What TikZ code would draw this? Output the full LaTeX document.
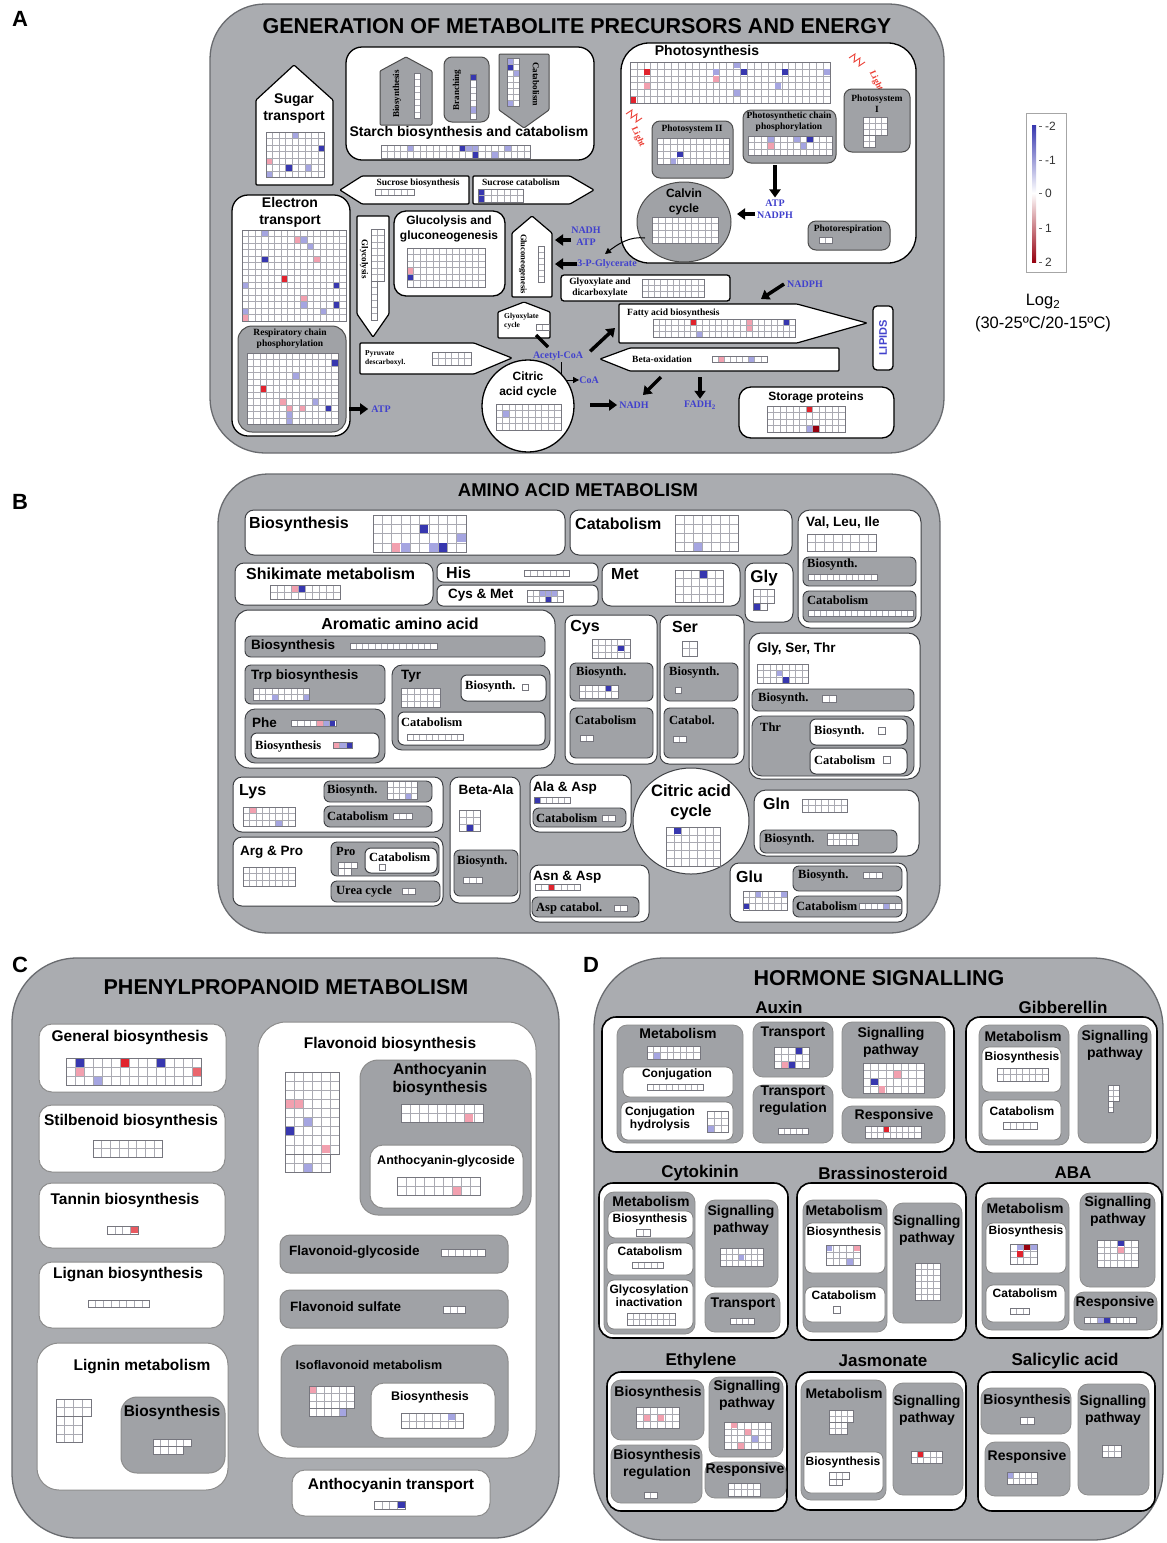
\documentclass[tikz,border=0pt]{standalone}
\usepackage{fontspec}
\setmainfont{Liberation Sans}
\newfontfamily\tms{Liberation Serif}
\usetikzlibrary{arrows.meta}

\definecolor{pgray}{RGB}{170,172,176}
\definecolor{bgray}{RGB}{160,162,166}
\definecolor{pedge}{RGB}{105,107,111}
\definecolor{bedge}{RGB}{62,64,68}
\definecolor{cellc}{RGB}{170,170,178}
\definecolor{cellb}{RGB}{118,118,126}
\definecolor{hb}{RGB}{55,55,175}
\definecolor{hlb}{RGB}{165,165,225}
\definecolor{hr}{RGB}{225,35,45}
\definecolor{hlr}{RGB}{242,160,175}
\definecolor{hdr}{RGB}{150,0,15}
\definecolor{metblue}{RGB}{65,65,205}
\definecolor{lightred}{RGB}{235,60,50}

% heat-map block: [cell]{x}{y}{cols}{rows}
\newcommand\hm[5][\cs]{\xdef\hmx{#2}\xdef\hmy{#3}\xdef\hmc{#1}%
  \fill[white] (#2,#3) rectangle ++({#4*#1},{#5*#1});
  \draw[cl] \foreach \i in {0,...,#4}{({#2+\i*#1},#3) -- ++(0,{#5*#1})}
    \foreach \j in {0,...,#5}{(#2,{#3+\j*#1}) -- ++({#4*#1},0)};
  \draw[cb] (#2,#3) rectangle ++({#4*#1},{#5*#1});}
% coloured cell of the last block: {col}{row}{colour}
\newcommand\hc[3]{\fill[#3] ({\hmx+#1*\hmc+0.5},{\hmy+#2*\hmc+0.5}) rectangle ++({\hmc-1},{\hmc-1});}

\tikzset{
  panel/.style={fill=pgray,draw=pedge,line width=1.3pt},
  wa/.style={fill=white,draw=black,line width=1.3pt,rounded corners=12pt},
  ga/.style={fill=bgray,draw=black!70,line width=1pt,rounded corners=8pt},
  wsh/.style={fill=white,draw=black,line width=1.2pt,rounded corners=1pt},
  gsh/.style={fill=bgray,draw=black!70,line width=1pt,rounded corners=1pt},
  wb/.style={fill=white,draw=bedge,line width=1pt,rounded corners=9pt},
  gb/.style={fill=bgray,draw=bedge,line width=0.9pt,rounded corners=6pt},
  wc/.style={fill=white,draw=black!45,line width=1pt,rounded corners=13pt},
  gc/.style={fill=bgray,draw=black!45,line width=1pt,rounded corners=10pt},
  wd/.style={fill=white,draw=black,line width=1.6pt,rounded corners=14pt},
  gd/.style={fill=bgray,draw=black!45,line width=0.8pt,rounded corners=10pt},
  wds/.style={fill=white,draw=black!50,line width=0.8pt,rounded corners=7pt},
  cl/.style={draw=cellc,line width=0.45pt},
  cb/.style={draw=cellb,line width=0.6pt},
  plab/.style={font=\fontsize{22}{24}\selectfont\bfseries,inner sep=0pt},
  ttl/.style={font=\fontsize{21.5}{24}\selectfont\bfseries,inner sep=0pt},
  md/.style={font=\fontsize{14}{17}\selectfont\bfseries,inner sep=0pt,align=center},
  sm/.style={font=\fontsize{12}{15}\selectfont\bfseries,inner sep=0pt,align=center},
  ti/.style={font=\tms\fontsize{9.5}{11}\selectfont\bfseries,inner sep=0pt,align=center},
  tj/.style={font=\tms\fontsize{7.5}{9}\selectfont\bfseries,inner sep=0pt,align=left},
  blu/.style={font=\tms\fontsize{10}{12}\selectfont\bfseries,text=metblue,inner sep=0pt,align=center},
  ltx/.style={font=\tms\fontsize{9}{10}\selectfont\bfseries,text=lightred,inner sep=0pt},
  lzz/.style={draw=lightred,line width=0.9pt},
  bh/.style={font=\fontsize{16}{19}\selectfont\bfseries,inner sep=0pt,align=center},
  bm/.style={font=\fontsize{13.5}{16}\selectfont\bfseries,inner sep=0pt},
  tb/.style={font=\tms\fontsize{12.5}{14}\selectfont\bfseries,inner sep=0pt},
  ch/.style={font=\fontsize{15.5}{18}\selectfont\bfseries,inner sep=0pt,align=center},
  cmd/.style={font=\fontsize{13.5}{16}\selectfont\bfseries,inner sep=0pt},
  csm/.style={font=\fontsize{12.5}{15}\selectfont\bfseries,inner sep=0pt},
  dh/.style={font=\fontsize{17}{20}\selectfont\bfseries,inner sep=0pt},
  dm/.style={font=\fontsize{14}{17}\selectfont\bfseries,inner sep=0pt,align=center},
  ds/.style={font=\fontsize{12}{13}\selectfont\bfseries,inner sep=0pt,align=center},
  lgd/.style={font=\fontsize{16.5}{19}\selectfont,inner sep=0pt},
  lgs/.style={font=\fontsize{12}{13}\selectfont,text=black!80,inner sep=0pt},
  barr/.style={line width=3.5pt,-{Triangle[length=8pt,width=11pt]}},
  tarr/.style={line width=1pt,-{Triangle[length=6pt,width=6pt]}},
}

\begin{document}
\begin{tikzpicture}[x=1pt,y=-1pt]
\useasboundingbox (0,0) rectangle (1167,1543);

%%% A
\def\cs{6.5}
\node[plab] (la) at (20,19) {A};
\draw[panel,rounded corners=55pt] (210,4) rectangle (944,453);
\node[ttl] (ta) at (577,26) {GENERATION OF METABOLITE PRECURSORS AND ENERGY};

\draw[wsh] (256,100) -- (294,65) -- (333,100) -- (333,185) -- (256,185) -- cycle;
\node[md] (sug) at (294,109) {Sugar\\transport};
\hm{266}{132}{9}{7}\hc{4}{0}{hlb}\hc{8}{2}{hb}\hc{0}{4}{hlr}\hc{3}{5}{hb}\hc{6}{5}{hlb}\hc{0}{6}{hlb}

\draw[wa,rounded corners=16pt] (346,47) rectangle (594,160);
\draw[gsh] (380,125) -- (380,71) -- (406,57) -- (432,71) -- (432,125) -- cycle;
\node[ti,rotate=90,font=\tms\fontsize{9}{10}\selectfont\bfseries] (sbio) at (397,94) {Biosynthesis};
\hm{414}{73}{1}{7}
\draw[ga] (444,57) rectangle (489,122);
\node[ti,rotate=90,font=\tms\fontsize{9}{10}\selectfont\bfseries] (sbra) at (457,90) {Branching};
\hm{470}{74}{1}{7}\hc{0}{0}{hb}\hc{0}{5}{hlb}
\draw[gsh] (499,54) -- (549,54) -- (549,110) -- (524,128) -- (499,110) -- cycle;
\node[ti,rotate=-90,font=\tms\fontsize{9}{10}\selectfont\bfseries] (scat) at (536,84) {Catabolism};
\hm[6]{507}{58}{2}{8}\hc{0}{1}{hb}\hc{0}{0}{hlb}\hc{1}{2}{hlb}\hc{0}{7}{hlb}
\node[md] (starch) at (469,133) {Starch biosynthesis and catabolism};
\hm{381}{145}{23}{2}\hc{4}{0}{hlb}\hc{12}{0}{hb}\hc{13}{0}{hlb}\hc{14}{0}{hlb}\hc{14}{1}{hb}\hc{17}{1}{hlb}\hc{19}{0}{hlb}

\draw[wsh] (340,190) -- (362,176) -- (469,176) -- (469,204) -- (362,204) -- cycle;
\node[ti] (sucb) at (418,183) {Sucrose biosynthesis};
\hm{375}{189}{6}{1}
\draw[wsh] (473,176) -- (570,176) -- (594,190) -- (570,204) -- (473,204) -- cycle;
\node[ti] (succ) at (521,182) {Sucrose catabolism};
\hm{478}{189}{7}{2}\hc{0}{0}{hb}\hc{0}{1}{hb}

\draw[wa,rounded corners=16pt] (232,195) rectangle (350,436);
\node[md] (elt) at (290,212) {Electron\\transport};
\hm{242}{230}{16}{14}
\hc{3}{0}{hlb}\hc{8}{1}{hlr}\hc{9}{1}{hlb}\hc{10}{2}{hlb}\hc{3}{4}{hb}\hc{11}{4}{hlr}\hc{6}{7}{hr}\hc{14}{8}{hb}
\hc{0}{8}{hlb}\hc{9}{10}{hlr}\hc{9}{11}{hlb}\hc{14}{11}{hb}\hc{0}{12}{hlb}\hc{12}{12}{hlb}\hc{0}{13}{hlr}
\draw[ga,rounded corners=14pt] (238,326) rectangle (346,432);
\node[ti] (rcp) at (290,339) {Respiratory chain\\phosphorylation};
\hm{247}{353}{14}{11}
\hc{13}{1}{hb}\hc{7}{3}{hlb}\hc{2}{5}{hr}\hc{8}{8}{hlr}\hc{10}{7}{hlb}\hc{12}{8}{hb}\hc{6}{8}{hlr}\hc{5}{7}{hlr}\hc{6}{9}{hlb}\hc{6}{10}{hlb}
\node[blu] (atp1) at (381,409) {ATP};
\coordinate (rce) at (349,409);
\draw[barr] (rce) -- ([xshift=-3pt]atp1.west);

\draw[wsh] (357,216) -- (389,216) -- (389,314) -- (373,337) -- (357,314) -- cycle;
\node[ti,rotate=-90,font=\tms\fontsize{9}{10}\selectfont\bfseries] (glyc) at (364,259) {Glycolysis};
\hm{371}{229}{2}{8}\hm{371}{281}{1}{6}

\draw[wa] (394,211) rectangle (505,296);
\node[sm] (glu) at (449,229) {Glucolysis and\\gluconeogenesis};
\hm{407}{248}{12}{6}\hc{0}{3}{hlr}\hc{0}{4}{hb}

\draw[wsh] (512,297) -- (512,233) -- (532,216) -- (552,233) -- (552,297) -- cycle;
\node[ti,rotate=-90,font=\tms\fontsize{8.5}{10}\selectfont\bfseries] (gng) at (523,264) {Gluconeogenesis};
\hm[6]{538}{246}{1}{6}

\node[blu] (nadh1) at (586,236) {NADH\\ATP};
\coordinate (gngr) at (555,240);
\draw[barr] (nadh1.west |- gngr) -- (gngr);
\node[blu] (pgly) at (607,264) {3-P-Glycerate};
\coordinate (gngr2) at (555,264);
\draw[barr] (pgly.west) -- (gngr2);

\draw[wa,rounded corners=3pt] (561,275) rectangle (730,301);
\node[ti] (gad) at (600,288) {Glyoxylate and\\dicarboxylate};
\hm[6.2]{642}{279}{10}{3}

\draw[wsh] (498,338) -- (498,312) -- (524,302) -- (550,312) -- (550,338) -- cycle;
\node[tj,anchor=west] (gcy) at (504,321) {Glyoxylate\\cycle};
\hm{536}{324}{2}{1}

\draw[wsh] (360,343) -- (474,343) -- (512,358) -- (474,374) -- (360,374) -- cycle;
\node[tj,anchor=west] (pyr) at (365,358) {Pyruvate\\descarboxyl.};
\hm{432}{352}{6}{2}

\node[blu] (acoa) at (558,356) {Acetyl-CoA};
\coordinate (gcyb) at (536,335);
\coordinate (acot) at (548,347);
\draw[line width=3.5pt] (gcyb) -- (acot);
\node[blu] (coa) at (589,380) {CoA};
\coordinate (acs) at (561,362);
\draw[tarr] (acs) |- (coa.west);

\draw[wa] (528,406) circle (46pt);
\node[sm] (caca) at (528,385) {Citric\\acid cycle};
\hm{496}{404}{10}{4}\hc{1}{1}{hlb}

\node[blu] (nadh2) at (634,405) {NADH};
\coordinate (cacr) at (590,405);
\draw[barr] (cacr) -- ([xshift=-2pt]nadh2.west);
\node[blu] (fadh) at (700,405) {FADH\textsubscript{2}};
\coordinate (box2) at (700,377);
\draw[barr] (box2) -- ([yshift=2pt]fadh.north);
\coordinate (box1) at (661,377);
\coordinate (nadt) at (643,395);
\draw[barr] (box1) -- (nadt);

\draw[wsh] (619,304) -- (797,304) -- (867,323) -- (797,343) -- (619,343) -- cycle;
\node[ti,anchor=west] (fab1) at (627,313) {Fatty acid biosynthesis};
\hm[6.2]{653}{319}{23}{3}\hc{6}{0}{hr}\hc{15}{0}{hlr}\hc{15}{1}{hlr}\hc{21}{0}{hb}\hc{7}{2}{hlb}
\coordinate (fal) at (615,328);
\draw[barr] ([xshift=7pt]acoa.north east) -- (fal);
\node[blu] (nadph2) at (805,284) {NADPH};
\coordinate (fab) at (761,299);
\draw[barr] ([xshift=-3pt]nadph2.west) -- (fab);

\draw[wsh] (600,359) -- (630,348) -- (839,348) -- (839,371) -- (630,371) -- cycle;
\node[ti,anchor=west] (box0) at (632,359) {Beta-oxidation};
\hm[6.1]{712}{356}{9}{1}\hc{1}{0}{hlr}\hc{6}{0}{hlb}

\draw[wa,rounded corners=4pt] (873,306) rectangle (893,370);
\node[font=\fontsize{11}{12}\selectfont\bfseries,text=metblue,rotate=90,inner sep=0pt] (lip) at (883,338) {LIPIDS};

\draw[wa] (739,387) rectangle (894,438);
\node[sm] (stp) at (816,397) {Storage proteins};
\hm{767}{406}{12}{4}\hc{6}{0}{hr}\hc{6}{3}{hlb}\hc{7}{3}{hdr}

\draw[wa,rounded corners=28pt] (621,43) rectangle (916,263);
\node[md] (phs) at (707,52) {Photosynthesis};
\hm[6.9]{630}{62}{29}{6}
\hc{2}{1}{hr}\hc{2}{3}{hlr}\hc{0}{5}{hr}\hc{12}{1}{hlb}\hc{12}{2}{hlr}\hc{15}{0}{hlb}\hc{16}{1}{hb}\hc{15}{4}{hlb}\hc{22}{1}{hb}\hc{21}{3}{hlb}\hc{28}{1}{hlb}
\draw[lzz] (849,58) -- (855,54) -- (854,62) -- (860,58) -- (859,66) -- (865,62);
\node[ltx,rotate=-65] (lt1) at (876,81) {Light};
\draw[lzz] (626,114) -- (632,110) -- (631,118) -- (637,114) -- (636,122) -- (642,118);
\node[ltx,rotate=-65] (lt2) at (638,137) {Light};

\draw[ga] (652,121) rectangle (733,178);
\node[ti] (ps2) at (692,129) {Photosystem II};
\hm[6.6]{657}{138}{11}{4}\hc{3}{2}{hb}\hc{2}{3}{hlb}
\draw[ga] (743,110) rectangle (836,163);
\node[ti] (pcp) at (789,122) {Photosynthetic chain\\phosphorylation};
\hm{748}{136}{13}{3}\hc{3}{0}{hlb}\hc{3}{1}{hlr}\hc{7}{0}{hlb}\hc{9}{0}{hb}\hc{8}{1}{hlb}
\draw[ga] (844,89) rectangle (910,152);
\node[ti] (ps1) at (877,104) {Photosystem\\I};
\hm[6]{863}{117}{4}{3}\hm[6]{863}{135}{2}{2}

\node[blu] (atp2) at (775,209) {ATP\\NADPH};
\coordinate (pcpb) at (775,165);
\draw[barr] (pcpb) -- ([yshift=2pt]atp2.north);
\coordinate (calr) at (737,214);
\draw[barr] ([xshift=-2pt]atp2.west |- calr) -- (calr);

\draw[ga] (684,222) ellipse (47pt and 40pt);
\node[sm] (calv) at (684,202) {Calvin\\cycle};
\hm[6.6]{652}{217}{10}{4}
\coordinate (calb) at (645,238);
\coordinate (pglt) at (605,254);
\draw[tarr] (calb) .. controls (630,236) and (618,244) .. (pglt);

\draw[ga] (808,221) rectangle (890,250);
\node[ti] (phr) at (848,229) {Photorespiration};
\hm{819}{237}{2}{1}

% legend
\draw[draw=black!35,fill=white,line width=0.8pt] (1026,113) rectangle (1066,272);
\shade[top color=hb,bottom color=white] (1032,125) rectangle (1036,193);
\shade[top color=white,bottom color=hdr] (1032,193) rectangle (1036,262);
\foreach \v/\yy in {-2/126,-1/160,0/193,1/228,2/262}{
  \draw[black!60] (1039,\yy) -- (1042,\yy);
  \node[lgs,anchor=west] (lg\v) at (1045,\yy) {\v};}
\node[lgd] (lgt) at (1043,302) {Log\textsubscript{2}};
\node[lgd] (lgu) at (1043,324) {(30-25ºC/20-15ºC)};

%%% B
\def\cs{9}
\node[plab] (lb) at (20,502) {B};
\draw[panel,rounded corners=50pt] (218,474) rectangle (940,933);
\node[ttl,font=\fontsize{18.5}{21}\selectfont\bfseries] (tb) at (578,490) {AMINO ACID METABOLISM};

\draw[wb] (245,510) rectangle (565,555);
\node[bh,anchor=west] (bbi) at (249,524) {Biosynthesis};
\hm[9.3]{373}{515}{10}{4}\hc{5}{1}{hb}\hc{9}{2}{hlb}\hc{3}{3}{hlb}\hc{6}{3}{hlb}\hc{2}{3}{hlr}\hc{7}{3}{hb}
\draw[wb] (570,510) rectangle (792,555);
\node[bh,anchor=west] (bca) at (575,524) {Catabolism};
\hm{675}{515}{7}{4}\hc{2}{3}{hlb}

\draw[wb,rounded corners=12pt] (798,510) rectangle (921,628);
\node[bm,anchor=west] (bvl) at (806,523) {Val, Leu, Ile};
\hm[8.7]{807}{534}{8}{2}
\draw[gb] (803,557) rectangle (916,586);
\node[tb,anchor=west] (bvb) at (807,565) {Biosynth.};
\hm[6.3]{808}{574}{11}{1}
\draw[gb] (803,591) rectangle (916,622);
\node[tb,anchor=west] (bvc) at (807,600) {Catabolism};
\hm[6.2]{808}{610}{17}{1}

\draw[wb] (235,563) rectangle (433,605);
\node[bh,anchor=west] (bsh) at (246,574) {Shikimate metabolism};
\hm[7]{270}{585}{10}{2}\hc{3}{0}{hlr}\hc{4}{0}{hb}
\draw[wb,rounded corners=6pt] (437,563) rectangle (598,582);
\node[bh,anchor=west] (bhi) at (446,573) {His};
\hm[6.5]{524}{570}{7}{1}
\draw[wb,rounded corners=6pt] (437,585) rectangle (598,606);
\node[bm,anchor=west] (bcm) at (448,595) {Cys \& Met};
\hm[6]{527}{590}{6}{2}\hc{2}{0}{hlb}\hc{3}{0}{hlb}\hc{3}{1}{hb}\hc{4}{0}{hlb}
\draw[wb] (602,563) rectangle (740,606);
\node[bh,anchor=west] (bme) at (611,574) {Met};
\hm[8]{675}{570}{6}{4}\hc{3}{0}{hb}
\draw[wb] (745,563) rectangle (793,622);
\node[bh,font=\fontsize{17}{19}\selectfont\bfseries] (bgy) at (764,578) {Gly};
\hm[7]{753}{589}{3}{2}\hm[7]{753}{603}{2}{1}\hc{0}{0}{hb}

\draw[wb,rounded corners=14pt] (235,610) rectangle (555,768);
\node[bh] (bar) at (400,624) {Aromatic amino acid};
\draw[gb] (245,636) rectangle (545,657);
\node[bm,anchor=west] (barb) at (251,646) {Biosynthesis};
\hm[6.2]{350}{643}{14}{1}
\draw[gb] (245,665) rectangle (385,704);
\node[bm,anchor=west] (btr) at (251,676) {Trp biosynthesis};
\hm[6.3]{253}{688}{9}{2}\hc{3}{1}{hlb}\hc{8}{1}{hlb}
\draw[gb,rounded corners=10pt] (245,709) rectangle (385,763);
\node[bm,anchor=west] (bph) at (252,723) {Phe};
\hm[6.4]{291}{720}{7}{1}\hc{4}{0}{hlr}\hc{5}{0}{hlb}\hc{6}{0}{hb}
\draw[wb,rounded corners=6pt] (251,733) rectangle (379,758);
\node[tb,anchor=west] (bphb) at (255,746) {Biosynthesis};
\hm[6.5]{333}{742}{3}{1}\hc{0}{0}{hlr}\hc{1}{0}{hlb}\hc{2}{0}{hb}
\draw[gb,rounded corners=10pt] (392,665) rectangle (550,750);
\node[bm,anchor=west] (bty) at (401,676) {Tyr};
\hm[6.5]{401}{688}{6}{3}
\draw[wb,rounded corners=6pt] (461,675) rectangle (546,701);
\node[tb,anchor=west] (btyb) at (465,687) {Biosynth.};
\hm[6.5]{522}{684}{1}{1}
\draw[wb,rounded corners=6pt] (398,712) rectangle (545,745);
\node[tb,anchor=west] (btyc) at (401,722) {Catabolism};
\hm[6.3]{407}{734}{9}{1}

\draw[wb] (565,615) rectangle (657,764);
\node[bh] (bcy) at (585,628) {Cys};
\hm[6.4]{592}{639}{6}{3}\hc{4}{1}{hb}
\draw[gb] (570,663) rectangle (653,701);
\node[tb,anchor=west] (bcyb) at (576,673) {Biosynth.};
\hm[6.5]{579}{685}{6}{2}\hc{4}{0}{hb}
\draw[gb] (570,708) rectangle (653,758);
\node[tb,anchor=west] (bcyc) at (575,720) {Catabolism};
\hm[6.5]{580}{735}{2}{1}

\draw[wb] (660,615) rectangle (744,764);
\node[bh] (bse) at (685,627) {Ser};
\hm[7.5]{682}{641}{2}{2}
\draw[gb] (664,663) rectangle (738,701);
\node[tb,anchor=west] (bseb) at (669,673) {Biosynth.};
\hm[6.5]{675}{687}{1}{1}
\draw[gb] (664,708) rectangle (738,758);
\node[tb,anchor=west] (bsec) at (669,720) {Catabol.};
\hm[6.5]{673}{736}{2}{1}

\draw[wb,rounded corners=12pt] (749,633) rectangle (920,779);
\node[bm,anchor=west] (bgs) at (757,649) {Gly, Ser, Thr};
\hm[6.4]{757}{664}{8}{3}\hc{3}{1}{hlb}\hc{4}{2}{hb}
\draw[gb] (752,689) rectangle (914,711);
\node[tb,anchor=west] (bgsb) at (758,699) {Biosynth.};
\hm[7]{822}{695}{2}{1}
\draw[gb,rounded corners=10pt] (752,716) rectangle (914,776);
\node[tb,anchor=west] (bth) at (760,727) {Thr};
\draw[wb,rounded corners=6pt] (810,719) rectangle (907,745);
\node[tb,anchor=west] (bthb) at (814,731) {Biosynth.};
\hm[7]{878}{727}{1}{1}
\draw[wb,rounded corners=6pt] (810,748) rectangle (907,774);
\node[tb,anchor=west] (bthc) at (814,760) {Catabolism};
\hm[7]{883}{756}{1}{1}

\draw[wb] (233,777) rectangle (443,832);
\node[bh,anchor=west] (bly) at (239,792) {Lys};
\hm[6.5]{243}{807}{8}{3}\hc{1}{0}{hlr}\hc{5}{2}{hlb}
\draw[gb] (324,781) rectangle (432,802);
\node[tb,anchor=west] (blyb) at (327,790) {Biosynth.};
\hm[6]{387}{781}{5}{3}\hc{3}{2}{hlb}
\draw[gb] (324,806) rectangle (432,827);
\node[tb,anchor=west] (blyc) at (327,816) {Catabolism};
\hm[6.5]{393}{813}{3}{1}

\draw[wb] (233,837) rectangle (443,906);
\node[bm,anchor=west] (bap) at (240,852) {Arg \& Pro};
\hm[6.5]{243}{867}{8}{3}
\draw[gb] (331,842) rectangle (439,876);
\node[tb,anchor=west] (bpr) at (336,851) {Pro};
\hm[6.5]{338}{862}{3}{1}\hm[6.5]{338}{868.5}{2}{1}
\draw[wb,rounded corners=6pt] (365,848) rectangle (437,873);
\node[tb,anchor=west] (bprc) at (369,857) {Catabolism};
\hm[6.5]{379}{864}{1}{1}
\draw[gb] (331,881) rectangle (440,902);
\node[tb,anchor=west] (bur) at (336,891) {Urea cycle};
\hm[6.5]{402}{888}{2}{1}

\draw[wb] (450,777) rectangle (520,903);
\node[bm] (bba) at (486,790) {Beta-Ala};
\hm[7]{459}{810}{3}{3}\hc{1}{2}{hb}
\draw[gb] (454,850) rectangle (518,896);
\node[tb,anchor=west] (bbab) at (457,861) {Biosynth.};
\hm[6.5]{463}{877}{3}{1}

\draw[wb] (530,775) rectangle (631,832);
\node[bm,anchor=west] (baa) at (533,788) {Ala \& Asp};
\hm[6]{534}{797}{6}{1}\hc{0}{0}{hb}
\draw[gb] (533,808) rectangle (626,827);
\node[tb,anchor=west] (baac) at (536,818) {Catabolism};
\hm[6.5]{602}{815}{2}{1}

\draw[wb] (691,821) ellipse (58pt and 53pt);
\node[bh,font=\fontsize{16.5}{20}\selectfont\bfseries] (bcc) at (691,802) {Citric acid\\cycle};
\hm[7.8]{666}{827}{7}{5}\hc{1}{0}{hb}

\draw[wb,rounded corners=12pt] (754,790) rectangle (919,856);
\node[bh,anchor=west] (bgl) at (763,804) {Gln};
\hm[6.5]{802}{799}{7}{2}
\draw[gb] (760,830) rectangle (897,853);
\node[tb,anchor=west] (bglb) at (764,839) {Biosynth.};
\hm[6.3]{827}{833}{5}{2}

\draw[wb] (530,865) rectangle (649,922);
\node[bm,anchor=west] (ban) at (533,877) {Asn \& Asp};
\hm[6.5]{535}{884}{7}{1}\hc{2}{0}{hr}
\draw[gb] (532,897) rectangle (639,917);
\node[tb,anchor=west] (banc) at (536,908) {Asp catabol.};
\hm[6.5]{614}{905}{2}{1}

\draw[wb] (730,863) rectangle (907,922);
\node[bh,anchor=west] (bgu) at (736,877) {Glu};
\hm[6.3]{743}{891}{7}{3}\hc{0}{2}{hb}\hc{2}{0}{hlb}\hc{6}{0}{hlb}
\draw[gb] (793,866) rectangle (902,891);
\node[tb,anchor=west] (bgub) at (798,875) {Biosynth.};
\hm[6.5]{863}{872}{3}{1}
\draw[gb] (793,896) rectangle (902,917);
\node[tb,anchor=west] (bguc) at (796,906) {Catabolism};
\hm[6]{859}{903}{7}{1}\hc{4}{0}{hlb}

%%% C
\node[plab] (lc) at (20,965) {C};
\draw[panel,rounded corners=65pt] (12,958) rectangle (559,1538);
\node[ttl] (tc) at (286,987) {PHENYLPROPANOID METABOLISM};

\draw[wc] (39,1024) rectangle (226,1092);
\node[ch] (cgb) at (130,1037) {General biosynthesis};
\hm[9]{66}{1058}{15}{3}\hc{1}{0}{hb}\hc{1}{1}{hlr}\hc{6}{0}{hr}\hc{10}{0}{hb}\hc{3}{2}{hlb}\hc{14}{1}{hr!70}
\draw[wc] (39,1105) rectangle (225,1172);
\node[ch] (csb) at (131,1121) {Stilbenoid biosynthesis};
\hm[8.7]{93}{1140}{8}{2}
\draw[wc] (39,1183) rectangle (225,1248);
\node[ch] (ctb) at (125,1200) {Tannin biosynthesis};
\hm[7.8]{107}{1226}{4}{1}\hc{3}{0}{hr!75}
\draw[wc] (39,1262) rectangle (224,1328);
\node[ch] (clb) at (128,1275) {Lignan biosynthesis};
\hm[7.7]{88}{1300}{8}{1}
\draw[wc,rounded corners=22pt] (37,1343) rectangle (228,1490);
\node[ch] (clm) at (142,1367) {Lignin metabolism};
\hm[8.7]{56}{1399}{4}{2}\hm[8.7]{56}{1416.4}{3}{3}
\draw[gc,rounded corners=16pt] (121,1397) rectangle (225,1473);
\node[ch] (clg) at (172,1412) {Biosynthesis};
\hm[7.6]{153}{1439}{5}{1}\hm[7.6]{153}{1446.6}{4}{1}

\draw[wc,rounded corners=28pt] (258,1022) rectangle (536,1458);
\node[ch] (cfb) at (390,1044) {Flavonoid biosynthesis};
\hm[9.1]{285}{1072}{6}{9}\hc{0}{3}{hlr}\hc{1}{3}{hlr}\hc{2}{5}{hlb}\hc{0}{6}{hb}\hc{4}{8}{hlr}
\hm[9.1]{285}{1153.9}{5}{2}\hc{2}{1}{hlb}
\draw[gc,rounded corners=18pt] (360,1060) rectangle (531,1215);
\node[ch] (cab) at (440,1079) {Anthocyanin\\biosynthesis};
\hm[9.1]{401}{1104}{9}{2}\hc{7}{1}{hlr}
\draw[wc] (370,1145) rectangle (523,1208);
\node[csm] (cag) at (446,1161) {Anthocyanin-glycoside};
\hm[9.2]{397}{1177}{9}{2}\hc{6}{1}{hlr}
\draw[gc] (280,1235) rectangle (508,1273);
\node[cmd,anchor=west] (cfg) at (289,1252) {Flavonoid-glycoside};
\hm[7.3]{441}{1249}{6}{1}
\draw[gc] (280,1290) rectangle (508,1328);
\node[cmd,anchor=west] (cfs) at (290,1307) {Flavonoid sulfate};
\hm[7.3]{443}{1306}{3}{1}
\draw[gc,rounded corners=16pt] (281,1345) rectangle (508,1447);
\node[cmd,font=\fontsize{12.5}{15}\selectfont\bfseries] (cim) at (369,1365) {Isoflavonoid metabolism};
\hm[7.5]{309}{1386}{6}{3}\hc{0}{0}{hlr}\hm[7.5]{309}{1408.5}{5}{1}\hc{4}{0}{hlb}
\draw[wc] (371,1383) rectangle (495,1438);
\node[csm] (cib) at (430,1397) {Biosynthesis};
\hm[7.8]{401}{1413}{8}{2}\hc{6}{0}{hlb}
\draw[wc] (292,1470) rectangle (490,1516);
\node[ch] (cat) at (391,1485) {Anthocyanin transport};
\hm[7.8]{374}{1501}{4}{1}\hc{3}{0}{hb}

%%% D
\node[plab] (ld) at (591,965) {D};
\draw[panel,rounded corners=70pt] (594,958) rectangle (1163,1540);
\node[ttl] (td) at (879,978) {HORMONE SIGNALLING};

\node[dh] (hax) at (779,1007) {Auxin};
\draw[wd] (602,1017) rectangle (954,1152);
\draw[gd] (617,1025) rectangle (743,1143);
\node[dm] (axm) at (678,1033) {Metabolism};
\hm[6.6]{647}{1046}{8}{2}\hc{1}{1}{hlb}
\draw[wds] (623,1067) rectangle (733,1097);
\node[ds] (axc) at (677,1074) {Conjugation};
\hm[6.3]{647}{1084}{9}{1}
\draw[wds] (621,1102) rectangle (733,1140);
\node[ds] (axh) at (660,1119) {Conjugation\\hydrolysis};
\hm[7]{707}{1111}{3}{3}\hc{0}{2}{hlb}
\draw[gd] (753,1022) rectangle (833,1077);
\node[dm] (axt) at (793,1033) {Transport};
\hm[7]{774}{1047}{5}{3}\hc{3}{0}{hb}\hc{1}{2}{hlr}\hc{2}{2}{hb}
\draw[gd] (753,1085) rectangle (833,1143);
\node[dm] (axr) at (793,1101) {Transport\\regulation};
\hm[6]{778}{1128}{5}{1}
\draw[gd] (842,1022) rectangle (945,1098);
\node[dm] (axs) at (891,1042) {Signalling\\pathway};
\hm[7.6]{863}{1063}{8}{4}\hc{4}{1}{hlr}\hc{1}{2}{hb}\hc{2}{3}{hlr}
\draw[gd] (842,1106) rectangle (945,1143);
\node[dm] (axp) at (894,1116) {Responsive};
\hm[6.2]{865}{1126}{9}{2}\hc{3}{0}{hr}

\node[dh] (hgb) at (1063,1007) {Gibberellin};
\draw[wd] (966,1017) rectangle (1157,1152);
\draw[gd] (979,1025) rectangle (1069,1145);
\node[dm] (gbm) at (1023,1036) {Metabolism};
\draw[wds] (982,1047) rectangle (1061,1092);
\node[ds] (gbb) at (1022,1057) {Biosynthesis};
\hm[6.4]{997}{1068}{8}{2}
\draw[wds] (982,1100) rectangle (1061,1140);
\node[ds] (gbc) at (1022,1111) {Catabolism};
\hm[6.8]{1003}{1122}{5}{1}
\draw[gd] (1078,1025) rectangle (1151,1143);
\node[dm] (gbs) at (1115,1045) {Signalling\\pathway};
\hm[5.5]{1108}{1085}{2}{3}\hm[5.5]{1108}{1101.5}{1}{2}

\node[dh] (hck) at (700,1173) {Cytokinin};
\draw[wd] (599,1183) rectangle (788,1338);
\draw[gd] (604,1192) rectangle (695,1334);
\node[dm] (ckm) at (651,1201) {Metabolism};
\draw[wds] (608,1211) rectangle (693,1238);
\node[ds] (ckb) at (650,1219) {Biosynthesis};
\hm[7]{636}{1229}{2}{1}
\draw[wds] (607,1243) rectangle (693,1275);
\node[ds] (ckc) at (650,1251) {Catabolism};
\hm[6.3]{632}{1262}{5}{1}
\draw[wds] (607,1280) rectangle (693,1329);
\node[ds] (ckg) at (649,1296) {Glycosylation\\inactivation};
\hm[6]{627}{1313}{8}{2}
\draw[gd] (705,1200) rectangle (778,1287);
\node[dm] (cks) at (741,1220) {Signalling\\pathway};
\hm[6.2]{720}{1248}{7}{3}\hc{3}{1}{hlb}
\draw[gd] (705,1293) rectangle (780,1332);
\node[dm] (ckt) at (743,1304) {Transport};
\hm[6]{730}{1318}{4}{1}

\node[dh] (hbr) at (883,1173) {Brassinosteroid};
\draw[wd] (797,1183) rectangle (966,1340);
\draw[gd] (803,1200) rectangle (887,1332);
\node[dm] (brm) at (844,1210) {Metabolism};
\draw[wds] (805,1223) rectangle (885,1273);
\node[ds] (brb) at (844,1232) {Biosynthesis};
\hm[6.8]{826}{1245}{5}{3}\hc{0}{0}{hlb}\hc{4}{0}{hlr}\hc{3}{2}{hlb}
\draw[wds] (805,1287) rectangle (885,1322);
\node[ds] (brc) at (844,1295) {Catabolism};
\hm[7]{833}{1306}{1}{1}
\draw[gd] (893,1203) rectangle (962,1323);
\node[dm] (brs) at (927,1230) {Signalling\\pathway};
\hm[6.2]{915}{1263}{4}{6}

\node[dh] (hab) at (1073,1173) {ABA};
\draw[wd] (976,1183) rectangle (1162,1338);
\draw[gd] (982,1198) rectangle (1069,1330);
\node[dm] (abm) at (1025,1208) {Metabolism};
\draw[wds] (986,1223) rectangle (1066,1273);
\node[ds] (abb) at (1026,1231) {Biosynthesis};
\hm[6.8]{1010}{1244}{4}{3}\hc{2}{0}{hdr}\hc{1}{1}{hr}\hc{3}{0}{hlb}\hc{1}{0}{hlb}
\draw[wds] (986,1285) rectangle (1065,1322);
\node[ds] (abc) at (1025,1293) {Catabolism};
\hm[6.4]{1010}{1308}{3}{1}
\draw[gd] (1080,1193) rectangle (1155,1287);
\node[dm] (abq) at (1118,1211) {Signalling\\pathway};
\hm[6.8]{1097}{1240}{6}{4}\hc{3}{0}{hb}\hc{3}{1}{hlr}
\draw[gd] (1074,1292) rectangle (1157,1330);
\node[dm] (abp) at (1115,1303) {Responsive};
\hm[6.5]{1084}{1317}{8}{1}\hc{3}{0}{hb}\hc{2}{0}{hlb}

\node[dh] (het) at (701,1361) {Ethylene};
\draw[wd] (607,1372) rectangle (787,1511);
\draw[gd] (611,1380) rectangle (704,1440);
\node[dm] (etb) at (658,1393) {Biosynthesis};
\hm[7.2]{636}{1407}{6}{3}\hc{1}{1}{hlr}\hc{3}{1}{hlr}
\draw[gd] (709,1377) rectangle (783,1457);
\node[dm] (ets) at (747,1395) {Signalling\\pathway};
\hm[6.8]{724}{1422}{7}{4}\hc{1}{0}{hlr}\hc{3}{1}{hlr}\hc{4}{2}{hlb}\hc{2}{3}{hlr}
\draw[gd] (611,1445) rectangle (702,1503);
\node[dm] (etr) at (657,1464) {Biosynthesis\\regulation};
\hm[6.5]{644}{1492}{2}{1}
\draw[gd] (705,1462) rectangle (786,1498);
\node[dm] (etp) at (745,1470) {Responsive};
\hm[6.4]{728}{1483}{5}{2}

\node[dh] (hja) at (883,1361) {Jasmonate};
\draw[wd] (796,1372) rectangle (966,1510);
\draw[gd] (801,1380) rectangle (886,1500);
\node[dm] (jam) at (844,1393) {Metabolism};
\hm[6]{829}{1410}{4}{2}\hm[6]{829}{1422}{3}{2}
\draw[wds] (804,1452) rectangle (883,1493);
\node[ds] (jab) at (843,1462) {Biosynthesis};
\hm[6.8]{829}{1472}{3}{1}\hm[6.8]{829}{1478.8}{2}{1}
\draw[gd] (893,1383) rectangle (963,1495);
\node[dm] (jas) at (927,1410) {Signalling\\pathway};
\hm[6.3]{911}{1451}{5}{2}\hc{1}{0}{hr}

\node[dh] (hsa) at (1065,1361) {Salicylic acid};
\draw[wd] (978,1372) rectangle (1155,1511);
\draw[gd] (981,1388) rectangle (1071,1434);
\node[dm] (sab) at (1027,1401) {Biosynthesis};
\hm[7]{1020}{1417}{2}{1}
\draw[gd] (985,1442) rectangle (1070,1496);
\node[dm] (sap) at (1027,1457) {Responsive};
\hm[6]{1007}{1472}{5}{2}\hc{0}{0}{hlb}
\draw[gd] (1078,1384) rectangle (1149,1495);
\node[dm] (sas) at (1113,1410) {Signalling\\pathway};
\hm[6.3]{1102}{1445}{3}{2}
\end{tikzpicture}
\end{document}
